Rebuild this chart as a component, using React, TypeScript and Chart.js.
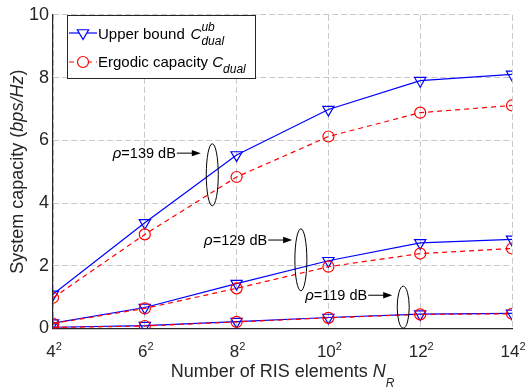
import React, { useEffect, useRef } from "react";
import { Chart, registerables } from "chart.js";
Chart.register(...registerables);

// ---------- data ----------
const xValues = [4, 6, 8, 10, 12, 14]; // N_R = x^2
const xTickBases = ["4", "6", "8", "10", "12", "14"];
const xTickExponent = "2";
const yTickValues = [0, 2, 4, 6, 8, 10];
const upperBound139 = [1.09, 3.37, 5.53, 6.98, 7.9, 8.1];
const ergodic139 = [0.98, 3.0, 4.83, 6.12, 6.88, 7.11];
const upperBound129 = [0.17, 0.67, 1.43, 2.16, 2.73, 2.84];
const ergodic129 = [0.16, 0.64, 1.28, 1.97, 2.39, 2.55];
const upperBound119 = [0.04, 0.09, 0.22, 0.35, 0.46, 0.48];
const ergodic119 = [0.03, 0.08, 0.21, 0.34, 0.45, 0.47];

const rhoLabels = ["=139 dB", "=129 dB", "=119 dB"];
// ellipse centre & arrow tip, in data units
const ellipseCentersX = [7.47, 9.4, 11.63];
const ellipseCentersY = [4.9, 2.19, 0.68];
const ellipseRadiiX = [6, 6, 6];
const ellipseRadiiY = [31, 31, 21];
const arrowTipsX = [7.22, 9.21, 11.39];
const arrowTipsY = [5.59, 2.82, 1.06];

const FONT = '"Liberation Sans", Arial, Helvetica, sans-serif';
const TEXT = "#262626";
const BLUE = "#0000ff";
const RED = "#ff0000";

type Seg = { t: string; italic?: boolean; size: number; dy?: number; advance?: boolean };

function segWidth(ctx: CanvasRenderingContext2D, segs: Seg[]) {
  let w = 0;
  for (const s of segs) {
    ctx.font = `${s.italic ? "italic " : ""}${s.size}px ${FONT}`;
    const m = ctx.measureText(s.t).width;
    if (s.advance !== false) w += m;
  }
  return w;
}

function drawSegs(ctx: CanvasRenderingContext2D, x: number, y: number, segs: Seg[]) {
  let cx = x;
  for (const s of segs) {
    ctx.font = `${s.italic ? "italic " : ""}${s.size}px ${FONT}`;
    ctx.fillText(s.t, cx, y + (s.dy || 0));
    const m = ctx.measureText(s.t).width;
    if (s.advance !== false) cx += m;
  }
  return cx;
}

function toPts(ys: number[]) {
  return xValues.map((x, i) => ({ x, y: ys[i] }));
}

const decorPlugin = {
  id: "decor",
  afterDraw(chart: any) {
    const ctx: CanvasRenderingContext2D = chart.ctx;
    const xs = chart.scales.x;
    const ys = chart.scales.y;
    const area = chart.chartArea;
    ctx.save();
    ctx.fillStyle = TEXT;
    ctx.textBaseline = "alphabetic";
    ctx.textAlign = "left";

    // x tick labels with superscript exponent
    xs.ticks.forEach((tk: any, i: number) => {
      const px = xs.getPixelForValue(tk.value);
      const segs: Seg[] = [
        { t: xTickBases[i], size: 17 },
        { t: xTickExponent, size: 11, dy: -7 },
      ];
      const w = segWidth(ctx, segs);
      drawSegs(ctx, px - w / 2 + 1, area.bottom + 28.5, segs);
    });

    // x axis title
    const xt: Seg[] = [
      { t: "Number of RIS elements ", size: 18 },
      { t: "N", size: 18, italic: true },
      { t: "R", size: 12, italic: true, dy: 10 },
    ];
    const xw = segWidth(ctx, xt);
    drawSegs(ctx, (area.left + area.right) / 2 - xw / 2, 377, xt);

    // y axis title
    const yt: Seg[] = [
      { t: "System capacity (", size: 18 },
      { t: "bps/Hz", size: 18, italic: true },
      { t: ")", size: 18 },
    ];
    const yw = segWidth(ctx, yt);
    ctx.save();
    ctx.translate(23, (area.top + area.bottom) / 2);
    ctx.rotate(-Math.PI / 2);
    drawSegs(ctx, -yw / 2, 0, yt);
    ctx.restore();

    // annotations
    ctx.strokeStyle = "#000";
    ctx.fillStyle = "#000";
    ctx.lineWidth = 1;
    for (let i = 0; i < rhoLabels.length; i++) {
      const ex = xs.getPixelForValue(ellipseCentersX[i]);
      const ey = ys.getPixelForValue(ellipseCentersY[i]);
      ctx.beginPath();
      ctx.ellipse(ex, ey, ellipseRadiiX[i], ellipseRadiiY[i], 0, 0, Math.PI * 2);
      ctx.stroke();
      const tx = xs.getPixelForValue(arrowTipsX[i]);
      const ty = ys.getPixelForValue(arrowTipsY[i]);
      ctx.beginPath();
      ctx.moveTo(tx - 24, ty);
      ctx.lineTo(tx - 6, ty);
      ctx.stroke();
      ctx.beginPath();
      ctx.moveTo(tx, ty);
      ctx.lineTo(tx - 9, ty - 3.2);
      ctx.lineTo(tx - 9, ty + 3.2);
      ctx.closePath();
      ctx.fill();
      const segs: Seg[] = [
        { t: "\u03C1", size: 15, italic: true },
        { t: rhoLabels[i], size: 14.5 },
      ];
      const w = segWidth(ctx, segs);
      drawSegs(ctx, tx - 25 - w, ty + 5, segs);
    }

    // legend
    const lx = 67, ly = 15, lw = 188, lh = 63;
    ctx.fillStyle = "#fff";
    ctx.fillRect(lx, ly, lw, lh);
    ctx.strokeStyle = TEXT;
    ctx.lineWidth = 1;
    ctx.strokeRect(lx + 0.5, ly + 0.5, lw, lh);
    const r1 = 33, r2 = 62;
    // row 1 sample
    ctx.strokeStyle = BLUE;
    ctx.lineWidth = 1.2;
    ctx.beginPath();
    ctx.moveTo(69, r1);
    ctx.lineTo(97, r1);
    ctx.stroke();
    const rt = 6.5;
    ctx.beginPath();
    for (let k = 0; k < 3; k++) {
      const a = Math.PI + (k * 2 * Math.PI) / 3;
      const px = 83 + Math.sin(a) * rt;
      const py = r1 - Math.cos(a) * rt;
      if (k === 0) ctx.moveTo(px, py);
      else ctx.lineTo(px, py);
    }
    ctx.closePath();
    ctx.fillStyle = "#fff";
    ctx.fill();
    ctx.stroke();
    // row 2 sample
    ctx.strokeStyle = RED;
    ctx.setLineDash([5, 4]);
    ctx.beginPath();
    ctx.moveTo(69, r2);
    ctx.lineTo(97, r2);
    ctx.stroke();
    ctx.setLineDash([]);
    ctx.beginPath();
    ctx.arc(83, r2, 5.5, 0, Math.PI * 2);
    ctx.fill();
    ctx.stroke();

    ctx.fillStyle = "#000";
    drawSegs(ctx, 98, r1 + 6, [
      { t: "Upper bound ", size: 15 },
      { t: " ", size: 6 },
      { t: "C", size: 15, italic: true },
      { t: "ub", size: 12, italic: true, dy: -8, advance: false },
      { t: "dual", size: 12, italic: true, dy: 6 },
    ]);
    drawSegs(ctx, 98, r2 + 5, [
      { t: "Ergodic capacity ", size: 15 },
      { t: "C", size: 15, italic: true },
      { t: "dual", size: 12, italic: true, dy: 6 },
    ]);
    ctx.restore();
  },
};

function makeUpper(data: number[]) {
  return {
    data: toPts(data),
    borderColor: BLUE,
    borderWidth: 1.2,
    pointStyle: "triangle",
    rotation: 180,
    pointRadius: 6.5,
    pointBorderColor: BLUE,
    pointBackgroundColor: "rgba(0,0,0,0)",
    pointBorderWidth: 1.2,
    fill: false,
    tension: 0,
    order: 1,
  };
}
function makeErgodic(data: number[]) {
  return {
    data: toPts(data),
    borderColor: RED,
    borderWidth: 1.2,
    borderDash: [5, 4],
    pointStyle: "circle",
    pointRadius: 5.5,
    pointBorderColor: RED,
    pointBackgroundColor: "rgba(0,0,0,0)",
    pointBorderWidth: 1.2,
    fill: false,
    tension: 0,
    order: 0,
  };
}

export default function App() {
  const ref = useRef<HTMLCanvasElement | null>(null);
  useEffect(() => {
    if (!ref.current) return;
    const chart = new Chart(ref.current, {
      type: "line",
      data: {
        datasets: [
          makeUpper(upperBound139),
          makeErgodic(ergodic139),
          makeUpper(upperBound129),
          makeErgodic(ergodic129),
          makeUpper(upperBound119),
          makeErgodic(ergodic119),
        ] as any,
      },
      options: {
        responsive: false,
        animation: false,
        layout: { padding: { top: 11, right: 14, left: 0, bottom: 0 } },
        plugins: { legend: { display: false }, tooltip: { enabled: false } },
        scales: {
          x: {
            type: "linear",
            min: 4,
            max: 14,
            afterBuildTicks: (s: any) => {
              s.ticks = xValues.map((v) => ({ value: v }));
            },
            afterFit: (s: any) => {
              s.height = 63.5;
            },
            ticks: {
              display: false,
              autoSkip: false,
              maxRotation: 0,
            },
            grid: { color: "#c8c8c8", drawTicks: false, lineWidth: 1 },
            border: { display: true, color: TEXT, width: 1.2, dash: [6, 3] },
          },
          y: {
            type: "linear",
            min: 0,
            max: 10,
            afterBuildTicks: (s: any) => {
              s.ticks = yTickValues.map((v) => ({ value: v }));
            },
            afterFit: (s: any) => {
              s.width = 53;
            },
            ticks: {
              padding: 4,
              color: TEXT,
              font: { family: FONT, size: 18 },
            },
            grid: { color: "#c8c8c8", drawTicks: false, lineWidth: 1 },
            border: { display: true, color: TEXT, width: 1.2, dash: [6, 3] },
          },
        },
      } as any,
      plugins: [decorPlugin],
    });
    return () => chart.destroy();
  }, []);
  return (
    <div style={{ position: "absolute", left: 0, top: 0, width: 526, height: 392, background: "#fff" }}>
      <canvas ref={ref} width={526} height={392} />
    </div>
  );
}
